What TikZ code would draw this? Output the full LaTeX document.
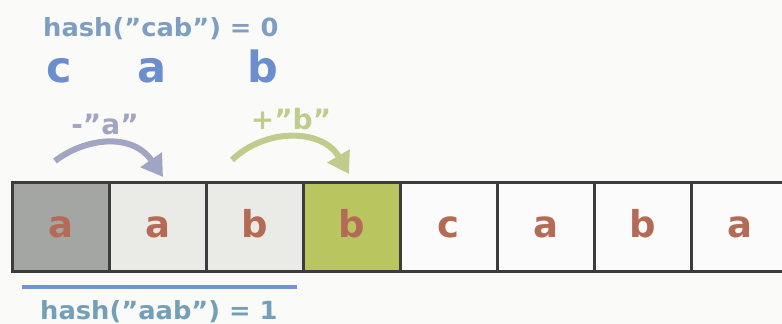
\documentclass[tikz,border=0pt]{standalone}
\usepackage{fontspec}
\setmainfont{DejaVu Sans}
\usetikzlibrary{arrows.meta}
\newcommand{\sq}{\symbol{34}}
\definecolor{bgc}{HTML}{FAFBF8}
\definecolor{edgec}{HTML}{3C3C3C}
\definecolor{darkcell}{HTML}{A4A6A4}
\definecolor{lightcell}{HTML}{EAEBE6}
\definecolor{greencell}{HTML}{B9C660}
\definecolor{whitecell}{HTML}{FBFBFB}
\definecolor{letterc}{HTML}{B56A55}
\definecolor{hashc}{HTML}{7D9DC2}
\definecolor{bluec}{HTML}{6C8ECF}
\definecolor{minusc}{HTML}{A2A4C4}
\definecolor{plusc}{HTML}{C0CC8C}
\definecolor{linec}{HTML}{7093DC}
\definecolor{hashb}{HTML}{73A0B8}
\tikzset{
  cell/.style={draw=edgec, line width=3pt, minimum width=97pt, minimum height=89pt,
    inner sep=0pt, text height=21pt, text depth=0pt, text=letterc,
    font=\fontsize{37}{37}\selectfont\bfseries},
  hashtext/.style={anchor=base west, inner sep=0pt, xscale=1.03, font=\fontsize{25}{25}\selectfont\bfseries},
  bigletter/.style={anchor=base, inner sep=0pt, text=bluec, font=\fontsize{43}{43}\selectfont\bfseries},
  optext/.style={anchor=base, inner sep=0pt, font=\fontsize{28}{28}\selectfont\bfseries},
  curvearrow/.style={line width=6pt, -{Triangle[length=21pt,width=25pt]}},
}
\begin{document}
\begin{tikzpicture}[x=1pt,y=-1pt]
\useasboundingbox (0,0) rectangle (782,324);
\fill[bgc] (0,0) rectangle (782,324);
% cells
\node[cell, fill=darkcell] (c1) at (60.5,226.5) {a};
\node[cell, fill=lightcell] (c2) at (157.5,226.5) {a};
\node[cell, fill=lightcell] (c3) at (254.5,226.5) {b};
\node[cell, fill=greencell] (c4) at (351.5,226.5) {b};
\node[cell, fill=whitecell] (c5) at (448.5,226.5) {c};
\node[cell, fill=whitecell] (c6) at (545.5,226.5) {a};
\node[cell, fill=whitecell] (c7) at (642.5,226.5) {b};
\node[cell, fill=whitecell] (c8) at (739.5,226.5) {a};
% top texts
\node[hashtext, text=hashc] (top) at (43,36) {hash(\sq cab\sq) = 0};
\node[bigletter] (lc) at (59,82) {c};
\node[bigletter] (la) at (152,82) {a};
\node[bigletter] (lb) at (263,82) {b};
% operations
\node[optext, text=minusc] (minus) at (105,134) {-\sq a\sq};
\node[optext, text=plusc] (plus) at (291,129) {+\sq b\sq};
\coordinate (m1) at (55,161);
\coordinate (m2) at (163,177);
\coordinate (p1) at (232,160);
\coordinate (p2) at (349,174);
\draw[curvearrow, minusc] (m1) .. controls (85,138) and (132,132) .. (m2);
\draw[curvearrow, plusc] (p1) .. controls (265,128) and (322,128) .. (p2);
% bottom
\coordinate (u1) at (22,287);
\coordinate (u2) at (297,287);
\draw[linec, line width=4.5pt] (u1) -- (u2);
\node[hashtext, text=hashb] (bot) at (40,319) {hash(\sq aab\sq) = 1};
\end{tikzpicture}
\end{document}
